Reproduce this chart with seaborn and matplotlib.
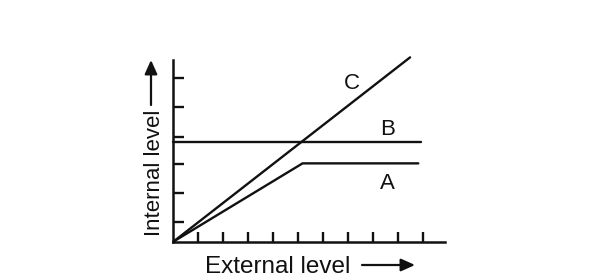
import matplotlib
matplotlib.use("Agg")
import matplotlib.pyplot as plt
from matplotlib.patches import FancyArrowPatch
import seaborn as sns
import pandas as pd

# ---- data ----
external_c = [0.0, 9.47]
internal_c = [0.0, 6.40]
external_b = [0.0, 9.9]
internal_b = [3.47, 3.47]
external_a = [0.0, 5.17, 9.8]
internal_a = [0.0, 2.72, 2.72]
x_ticks = [1, 2, 3, 4, 5, 6, 7, 8, 9, 10]
y_ticks = [0.67, 1.68, 2.69, 3.65, 4.67, 5.67]
curve_labels = ["A", "B", "C"]
label_x = [8.55, 8.59, 7.15]
label_y = [2.03, 3.88, 5.50]

sns.set_theme(style="white")
plt.rcParams["font.family"] = ["Liberation Sans", "DejaVu Sans"]

INK = "#111111"
W, H = 594, 280
fig = plt.figure(figsize=(W / 100, H / 100), dpi=100)
ox, oy = 173.3, 241.7
right, top = 445.0, 60.0
ax = fig.add_axes([ox / W, (H - oy) / H, (right - ox) / W, (oy - top) / H])

df = pd.concat([
    pd.DataFrame({"external": external_a, "internal": internal_a, "curve": "A"}),
    pd.DataFrame({"external": external_b, "internal": internal_b, "curve": "B"}),
    pd.DataFrame({"external": external_c, "internal": internal_c, "curve": "C"}),
])
for name, sub in df.groupby("curve"):
    sns.lineplot(data=sub, x="external", y="internal", ax=ax, color=INK,
                 lw=1.7, sort=False, estimator=None, clip_on=False, legend=False)

for t, x, y in zip(curve_labels, label_x, label_y):
    ax.text(x, y, t, ha="center", va="center", fontsize=16, color=INK)

ax.set_xlim(0, (right - ox) / 25.0)
ax.set_ylim(0, (oy - top) / 28.8)
ax.set_xticks(x_ticks)
ax.set_yticks(y_ticks)
ax.set_xticklabels([])
ax.set_yticklabels([])
ax.tick_params(axis="both", direction="in", width=1.7, color=INK)
ax.tick_params(axis="x", length=7, bottom=True)
ax.tick_params(axis="y", length=8, left=True)
ax.set_xlabel("")
ax.set_ylabel("")
for s in ["top", "right"]:
    ax.spines[s].set_visible(False)
for s in ["left", "bottom"]:
    ax.spines[s].set_color(INK)
    ax.spines[s].set_linewidth(1.8)
ax.set_facecolor("none")


def fx(px):
    return px / W


def fy(py):
    return (H - py) / H


arrow_style = "-|>,head_length=0.6,head_width=0.27"

fig.text(fx(205), fy(273.3), "External level", ha="left", va="baseline",
         fontsize=17.5, color=INK)
fig.add_artist(FancyArrowPatch(
    (fx(362), fy(265)), (fx(415), fy(265)), transform=fig.transFigure,
    arrowstyle=arrow_style, mutation_scale=14, lw=1.6, color=INK,
    shrinkA=0, shrinkB=0))

fig.text(fx(160.3), fy(236), "Internal level", ha="left", va="baseline",
         rotation=90, rotation_mode="anchor", fontsize=16, color=INK)
fig.add_artist(FancyArrowPatch(
    (fx(151), fy(105)), (fx(151), fy(60)), transform=fig.transFigure,
    arrowstyle=arrow_style, mutation_scale=14, lw=1.6, color=INK,
    shrinkA=0, shrinkB=0))

fig.savefig("out.png", dpi=100, facecolor="white")
